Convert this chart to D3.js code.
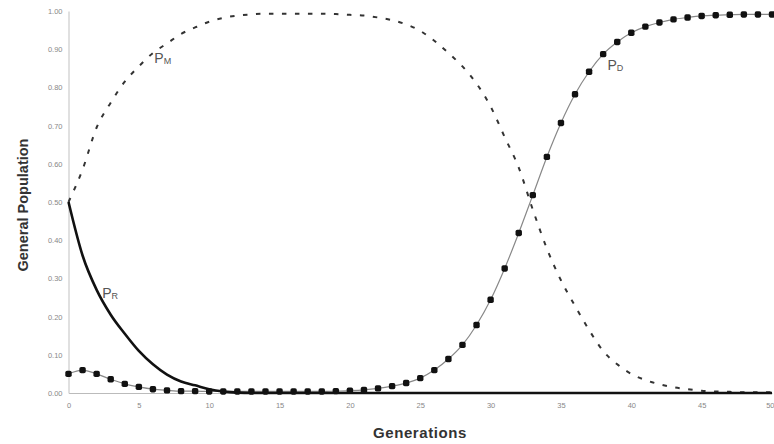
<!DOCTYPE html>
<html>
<head>
<meta charset="utf-8">
<script src="https://cdn.jsdelivr.net/npm/d3@7"></script>
<style>
  html, body { margin: 0; padding: 0; background: #fff; }
  svg { display: block; }
</style>
</head>
<body>
<svg id="chart" width="774" height="444"></svg>
<script>
// ---- data ----
const generations = d3.range(0, 51);
const xTickValues = [0, 5, 10, 15, 20, 25, 30, 35, 40, 45, 50];
const yTickValues = [0, 0.1, 0.2, 0.3, 0.4, 0.5, 0.6, 0.7, 0.8, 0.9, 1.0];

// P_D (dotted markers)
const pD = [0.050, 0.060, 0.050, 0.036, 0.024, 0.016, 0.010, 0.007, 0.005, 0.005,
            0.004, 0.004, 0.004, 0.004, 0.004, 0.004, 0.004, 0.004, 0.004, 0.005,
            0.006, 0.008, 0.012, 0.018, 0.026, 0.039, 0.060, 0.089, 0.126, 0.178,
            0.244, 0.326, 0.419, 0.518, 0.618, 0.707, 0.782, 0.841, 0.887, 0.919,
            0.943, 0.959, 0.970, 0.978, 0.983, 0.987, 0.989, 0.990, 0.991, 0.991, 0.991];

// P_M (dashed)
const pM = [0.500, 0.585, 0.695, 0.760, 0.815, 0.855, 0.890, 0.915, 0.940, 0.957,
            0.972, 0.982, 0.988, 0.991, 0.993, 0.993, 0.993, 0.993, 0.993, 0.992,
            0.990, 0.988, 0.983, 0.976, 0.965, 0.948, 0.922, 0.890, 0.855, 0.810,
            0.750, 0.670, 0.590, 0.480, 0.378, 0.295, 0.228, 0.165, 0.110, 0.075,
            0.050, 0.034, 0.023, 0.015, 0.010, 0.006, 0.004, 0.003, 0.002, 0.002, 0.002];

// P_R (solid)
const pR = [0.500, 0.360, 0.270, 0.205, 0.155, 0.110, 0.075, 0.048, 0.030, 0.020,
            0.010, 0.004, 0.001, 0, 0, 0, 0, 0, 0, 0,
            0, 0, 0, 0, 0, 0, 0, 0, 0, 0,
            0, 0, 0, 0, 0, 0, 0, 0, 0, 0,
            0, 0, 0, 0, 0, 0, 0, 0, 0, 0, 0];

const seriesLabels = [
  { main: "P", sub: "M", gen: 6.1, val: 0.865 },
  { main: "P", sub: "R", gen: 2.4, val: 0.248 },
  { main: "P", sub: "D", gen: 38.3, val: 0.845 }
];

// ---- layout ----
const svg = d3.select("#chart");
const x = d3.scaleLinear().domain([0, 50]).range([68.5, 772]);
const y = d3.scaleLinear().domain([0, 1]).range([393, 11]);

// axes
const xAxis = svg.append("g").attr("transform", `translate(0,${y(0)})`)
  .call(d3.axisBottom(x).tickValues(xTickValues).tickSize(0).tickPadding(10).tickFormat(d3.format("d")));
xAxis.select(".domain").attr("stroke", "#bbb").attr("stroke-width", 1.2);
xAxis.selectAll("text").attr("fill", "#888").style("font-family", "Arial, Liberation Sans, sans-serif").style("font-size", "7.5px");
xAxis.selectAll(".tick").filter(d => d === 50).select("text").attr("text-anchor", "end").attr("dx", 2);

const yAxis = svg.append("g").attr("transform", `translate(${x(0)},0)`)
  .call(d3.axisLeft(y).tickValues(yTickValues).tickSize(0).tickPadding(6).tickFormat(d3.format(".2f")));
yAxis.select(".domain").attr("stroke", "#ccc").attr("stroke-width", 1.2);
yAxis.selectAll("text").attr("fill", "#888").style("font-family", "Arial, Liberation Sans, sans-serif").style("font-size", "7.5px");

// axis titles
svg.append("text")
  .attr("x", 420).attr("y", 438)
  .attr("text-anchor", "middle")
  .style("font-family", "Arial, Liberation Sans, sans-serif")
  .style("font-size", "15px").style("font-weight", "bold")
  .style("letter-spacing", "0.6px")
  .attr("fill", "#333")
  .text("Generations");

svg.append("text")
  .attr("transform", "translate(28,205) rotate(-90)")
  .attr("text-anchor", "middle")
  .style("font-family", "Arial, Liberation Sans, sans-serif")
  .style("font-size", "14.5px").style("font-weight", "bold")
  .attr("fill", "#333")
  .text("General Population");

const line = (arr, curve) => d3.line()
  .x(d => x(d))
  .y(d => y(arr[d]))
  .curve(curve)(generations);

// P_M dashed
svg.append("path")
  .attr("d", line(pM, d3.curveMonotoneX))
  .attr("fill", "none")
  .attr("stroke", "#333")
  .attr("stroke-width", 2)
  .attr("stroke-dasharray", "4.5,8.5");

// P_D thin line + markers
svg.append("path")
  .attr("d", line(pD, d3.curveMonotoneX))
  .attr("fill", "none")
  .attr("stroke", "#888")
  .attr("stroke-width", 1.2);

// P_R solid thick
svg.append("path")
  .attr("d", line(pR, d3.curveMonotoneX))
  .attr("fill", "none")
  .attr("stroke", "#111")
  .attr("stroke-width", 2.6);

svg.append("g").selectAll("rect")
  .data(generations)
  .join("rect")
  .attr("x", d => x(d) - 3.2)
  .attr("y", d => y(pD[d]) - 3.2)
  .attr("width", 6.4).attr("height", 6.4)
  .attr("rx", 1.8)
  .attr("fill", "#111");

// series labels
const lbl = svg.append("g")
  .style("font-family", "Arial, Liberation Sans, sans-serif")
  .attr("fill", "#555");
seriesLabels.forEach(s => {
  const t = lbl.append("text")
    .attr("x", x(s.gen)).attr("y", y(s.val))
    .style("font-size", "14px");
  t.append("tspan").text(s.main);
  t.append("tspan").style("font-size", "9px").attr("dy", 1).text(s.sub);
});
</script>
</body>
</html>
